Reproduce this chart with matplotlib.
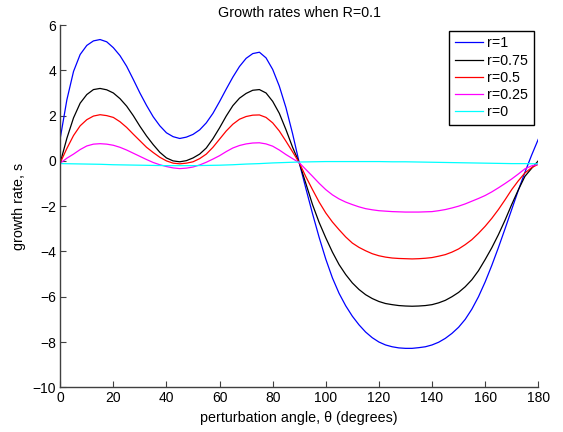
import numpy as np
import matplotlib.pyplot as plt

plt.rcParams['font.family'] = ['Liberation Sans', 'DejaVu Sans']

# perturbation angle (degrees), every 2.5 degrees
theta = np.arange(0, 180.1, 2.5)

s_r1 = [1.0, 2.7, 3.95, 4.7, 5.1, 5.3, 5.36, 5.26, 5.0, 4.65, 4.18, 3.6,
        3.0, 2.45, 1.95, 1.55, 1.24, 1.07, 0.99, 1.05, 1.17, 1.37, 1.68, 2.1,
        2.62, 3.17, 3.7, 4.17, 4.53, 4.74, 4.8, 4.55, 4.04, 3.3, 2.35, 1.2,
        -0.08, -1.22, -2.33, -3.38, -4.34, -5.17, -5.85, -6.4, -6.86, -7.24, -7.56, -7.81,
        -8.0, -8.13, -8.21, -8.26, -8.28, -8.28, -8.25, -8.21, -8.13, -8.01, -7.84, -7.62,
        -7.35, -7.0, -6.55, -6.0, -5.35, -4.62, -3.83, -3.0, -2.15, -1.3, -0.5, 0.25,
        0.95]
s_r075 = [-0.08, 1.0, 1.9, 2.55, 2.93, 3.15, 3.2, 3.14, 3.0, 2.75, 2.42, 2.0,
          1.53, 1.1, 0.72, 0.38, 0.13, 0.0, -0.04, 0.01, 0.13, 0.3, 0.57, 0.98,
          1.46, 1.98, 2.44, 2.77, 2.98, 3.12, 3.15, 3.0, 2.63, 2.1, 1.38, 0.6,
          -0.08, -1.0, -1.93, -2.72, -3.4, -4.03, -4.58, -5.02, -5.39, -5.68, -5.91, -6.08,
          -6.21, -6.3, -6.35, -6.39, -6.41, -6.42, -6.41, -6.39, -6.35, -6.27, -6.16, -6.0,
          -5.81, -5.56, -5.25, -4.85, -4.36, -3.84, -3.26, -2.62, -1.93, -1.28, -0.68, -0.33,
          0.0]
s_r05 = [-0.08, 0.55, 1.12, 1.55, 1.82, 1.98, 2.04, 2.0, 1.92, 1.73, 1.48, 1.18,
         0.89, 0.6, 0.37, 0.16, 0.0, -0.1, -0.13, -0.1, -0.04, 0.1, 0.3, 0.6,
         0.96, 1.32, 1.62, 1.84, 1.96, 2.02, 2.03, 1.92, 1.68, 1.32, 0.87, 0.4,
         -0.08, -0.7, -1.27, -1.82, -2.3, -2.7, -3.04, -3.36, -3.63, -3.82, -3.97, -4.1,
         -4.19, -4.25, -4.29, -4.31, -4.32, -4.33, -4.32, -4.3, -4.27, -4.21, -4.14, -4.03,
         -3.89, -3.7, -3.48, -3.2, -2.89, -2.54, -2.15, -1.72, -1.27, -0.88, -0.53, -0.3,
         -0.15]
s_r025 = [-0.1, 0.12, 0.3, 0.5, 0.66, 0.74, 0.76, 0.74, 0.69, 0.6, 0.48, 0.34,
          0.2, 0.06, -0.07, -0.17, -0.25, -0.31, -0.34, -0.32, -0.27, -0.18, -0.06, 0.08,
          0.23, 0.41, 0.57, 0.68, 0.75, 0.79, 0.8, 0.75, 0.65, 0.48, 0.28, 0.1,
          -0.08, -0.38, -0.68, -0.99, -1.27, -1.5, -1.68, -1.82, -1.93, -2.03, -2.11, -2.16,
          -2.2, -2.22, -2.24, -2.25, -2.26, -2.26, -2.26, -2.25, -2.24, -2.2, -2.15, -2.08,
          -2.0, -1.9, -1.78, -1.66, -1.53, -1.37, -1.19, -1.0, -0.8, -0.58, -0.35, -0.22,
          -0.15]
s_r0 = [-0.12, -0.125, -0.13, -0.135, -0.14, -0.145, -0.15, -0.16, -0.17, -0.175, -0.18, -0.185,
        -0.19, -0.195, -0.2, -0.205, -0.21, -0.21, -0.21, -0.21, -0.21, -0.205, -0.2, -0.195,
        -0.19, -0.18, -0.17, -0.155, -0.14, -0.13, -0.12, -0.105, -0.09, -0.08, -0.07, -0.06,
        -0.05, -0.045, -0.04, -0.035, -0.03, -0.03, -0.03, -0.03, -0.03, -0.03, -0.03, -0.03,
        -0.03, -0.035, -0.04, -0.04, -0.04, -0.045, -0.05, -0.055, -0.06, -0.065, -0.07, -0.075,
        -0.08, -0.085, -0.09, -0.095, -0.1, -0.105, -0.11, -0.115, -0.12, -0.12, -0.12, -0.125,
        -0.13]

series = [s_r1, s_r075, s_r05, s_r025, s_r0]
labels = ['r=1', 'r=0.75', 'r=0.5', 'r=0.25', 'r=0']
colors = ['#0000ff', '#000000', '#ff0000', '#ff00ff', '#00ffff']

fig = plt.figure(figsize=(5.63, 4.32), dpi=100)
ax = fig.add_axes([0.107, 0.1035, 0.849, 0.8385])

for s, lab, c in zip(series, labels, colors):
    ax.plot(theta, s, color=c, linewidth=0.9, label=lab)

ax.set_xlim(0, 180)
ax.set_ylim(-10, 6)
ax.set_xticks(np.arange(0, 181, 20))
ax.set_yticks(np.arange(-10, 7, 2))
ax.set_yticklabels(['\u221210', '\u22128', '\u22126', '\u22124', '\u22122', '0', '2', '4', '6'])

for side in ['top', 'right']:
    ax.spines[side].set_visible(False)
for side in ['left', 'bottom']:
    ax.spines[side].set_color('#404040')
    ax.spines[side].set_linewidth(1.0)
ax.tick_params(direction='in', length=4, width=0.8, color='#404040',
               labelsize=10, pad=3)

ax.set_title('Growth rates when R=0.1', fontsize=10.3, pad=6)
ax.set_xlabel('perturbation angle, \u03b8 (degrees)', fontsize=10.3, labelpad=4)
ax.set_ylabel('growth rate, s', fontsize=10.3, labelpad=5)

leg = ax.legend(loc='upper right', bbox_to_anchor=(534 / 563, 1 - 30.7 / 432),
                bbox_transform=fig.transFigure, fontsize=10.3, fancybox=False,
                borderaxespad=0, handlelength=2.0, handletextpad=0.3,
                labelspacing=0.22, borderpad=0.4, framealpha=1)
leg.get_frame().set_edgecolor('black')
leg.get_frame().set_linewidth(1.0)

fig.savefig('out.png', dpi=100)
